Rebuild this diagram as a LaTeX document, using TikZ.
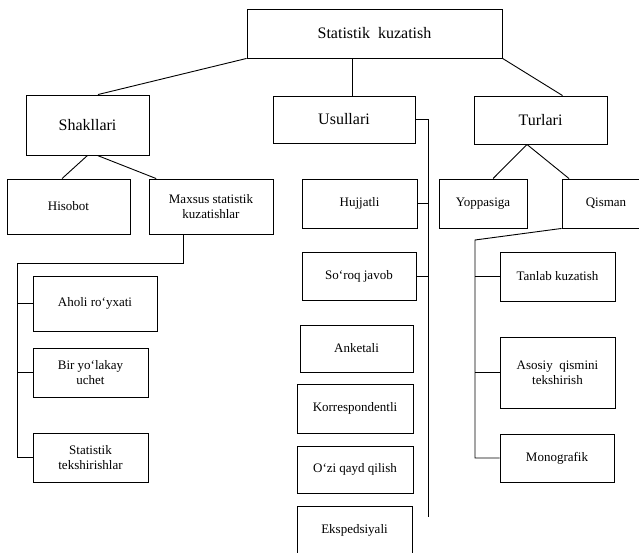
\documentclass[tikz,border=0pt]{standalone}
\usepackage{fontspec}
\setmainfont{Liberation Serif}
\usepackage{tikz}
\usetikzlibrary{positioning}

\begin{document}
\begin{tikzpicture}[x=1pt,y=-1pt,line width=0.9pt,
    bigbox/.style={draw,inner sep=0pt,font=\fontsize{16}{18}\selectfont},
    smallbox/.style={draw,inner sep=0pt,align=center,font=\fontsize{13}{15}\selectfont}]
      \useasboundingbox (0,0) rectangle (639,553);
      \clip (0,0) rectangle (639,553);

      % top level
      \node [bigbox,minimum width=255,minimum height=49] (kuz) at (374.5,33.5) {Statistik\ \ kuzatish};
      \node [bigbox,minimum width=123,minimum height=60] (shak) at (87.5,125) {Shakllari};
      \node [bigbox,minimum width=142,minimum height=47] (usul) at (344,119.5) {Usullari};
      \node [bigbox,minimum width=133,minimum height=48] (turl) at (540.5,120) {Turlari};

      % second level
      \node [smallbox,minimum width=123,minimum height=55] (hiso) at (68.5,206.5) {Hisobot};
      \node [smallbox,minimum width=124,minimum height=55] (maxs) at (211,206.5) {Maxsus statistik\\kuzatishlar};
      \node [smallbox,minimum width=115,minimum height=49] (hujj) at (359.5,203.5) {Hujjatli};
      \node [smallbox,minimum width=88,minimum height=49] (yopp) at (483,203.5) {Yoppasiga};
      \node [smallbox,minimum width=88,minimum height=49] (qism) at (606,203.5) {Qisman};

      % shakllari branch
      \node [smallbox,minimum width=124,minimum height=55] (aholi) at (95,303.5) {Aholi ro‘yxati};
      \node [smallbox,minimum width=115,minimum height=49] (bir) at (90.5,372.5) {Bir yo‘lakay\\uchet};
      \node [smallbox,minimum width=115,minimum height=49] (stat) at (90.5,457.5) {Statistik\\tekshirishlar};

      % usullari branch
      \node [smallbox,minimum width=114,minimum height=48] (soroq) at (359,276) {So‘roq javob};
      \node [smallbox,minimum width=113,minimum height=47] (anke) at (356.5,348.5) {Anketali};
      \node [smallbox,minimum width=116,minimum height=49] (korr) at (355,408.5) {Korrespondentli};
      \node [smallbox,minimum width=116,minimum height=47] (ozi) at (355,469.5) {O‘zi qayd qilish};
      \node [smallbox,minimum width=115,minimum height=49] (eksp) at (354.5,530.5) {Ekspedsiyali};
      \path (eksp.south west) ++(0,20) coordinate (ebot);

      % turlari branch
      \node [smallbox,minimum width=115,minimum height=49] (tanl) at (557.5,276.5) {Tanlab kuzatish};
      \node [smallbox,minimum width=115,minimum height=71] (asos) at (557.5,372.5) {Asosiy\ \ qismini\\tekshirish};
      \node [smallbox,minimum width=114,minimum height=48] (mono) at (557,458) {Monografik};

      % connectors from the top
      \draw (kuz.south west) -- (shak.71);
      \draw (usul.71) -- (usul.71 |- kuz.south);
      \draw (kuz.-11.7) -- (turl.48);
      \draw (shak.south) -- (hiso.103);
      \draw (shak.-72) -- (maxs.153);
      \draw (turl.-119) -- (yopp.68);
      \draw (turl.-119) -- (qism.146);

      % brackets
      \coordinate (mtop) at (17,263);
      \draw (maxs.-135) |- (mtop) -- (mtop |- stat.west) -- (stat.west);
      \draw (mtop |- aholi.west) -- (aholi.west);
      \draw (mtop |- bir.west) -- (bir.west);

      \coordinate (ubot) at (428,517);
      \draw (usul.east) -| (ubot);
      \draw (hujj.east) -- (hujj.east -| ubot);
      \draw (soroq.east) -- (soroq.east -| ubot);

      \coordinate (qtop) at (475,240);
      \draw (qism.south west) -- (qtop) -- (qtop |- mono.west) -- (mono.west);
      \draw (qtop |- tanl.west) -- (tanl.west);
      \draw (qtop |- asos.west) -- (asos.west);
    \end{tikzpicture}
\end{document}
